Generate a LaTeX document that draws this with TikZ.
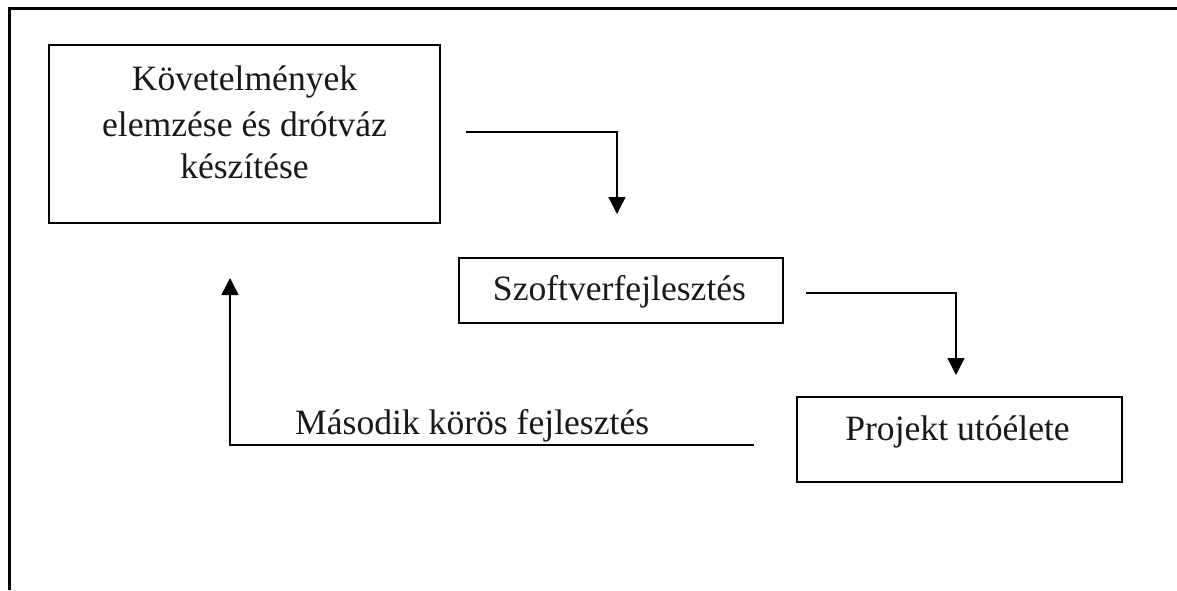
\documentclass[tikz,border=0pt]{standalone}
\usepackage{fontspec}
\setmainfont{Liberation Serif}
\usetikzlibrary{arrows.meta}
\begin{document}
\begin{tikzpicture}[x=1pt,y=-1pt,
  box/.style={draw, line width=1.5pt, inner sep=0pt},
  lbl/.style={font=\fontsize{35.6}{44}\selectfont, inner sep=0pt, text=black!90},
  conn/.style={line width=1.5pt, -{Triangle[length=17pt,width=17pt]}}]
\useasboundingbox (0,0) rectangle (1177,590);
% frame
\draw[line width=3pt] (9.5,590) -- (9.5,8) -- (1177,8);
% boxes
\node[box, minimum width=391pt, minimum height=178pt] (b1) at (244.5,134) {};
\node[lbl, anchor=base] (t1a) at (244.5,90) {Követelmények};
\node[lbl, anchor=base] (t1b) at (244.5,136) {elemzése és drótváz};
\node[lbl, anchor=base] (t1c) at (244.5,178) {készítése};
\node[box, minimum width=324pt, minimum height=65pt] (b2) at (621,290.5) {};
\node[lbl, anchor=base] (t2) at (619.5,300) {Szoftverfejlesztés};
\node[box, minimum width=325pt, minimum height=85pt] (b3) at (959.5,439.5) {};
\node[lbl, anchor=base] (t3) at (957.5,440) {Projekt utóélete};
% connectors
\coordinate (a1s) at (466,132);
\coordinate (a1c) at (617,132);
\coordinate (a1e) at (617,214);
\draw[conn] (a1s) -- (a1c) -- (a1e);
\coordinate (a2s) at (806,293);
\coordinate (a2c) at (956,293);
\coordinate (a2e) at (956,375);
\draw[conn] (a2s) -- (a2c) -- (a2e);
\coordinate (r1s) at (754,445);
\coordinate (r1c) at (230,445);
\coordinate (r1e) at (230,278);
\draw[conn] (r1s) -- (r1c) -- (r1e);
\node[lbl, anchor=base west] (rl) at (295,434) {Második körös fejlesztés};
\end{tikzpicture}
\end{document}
